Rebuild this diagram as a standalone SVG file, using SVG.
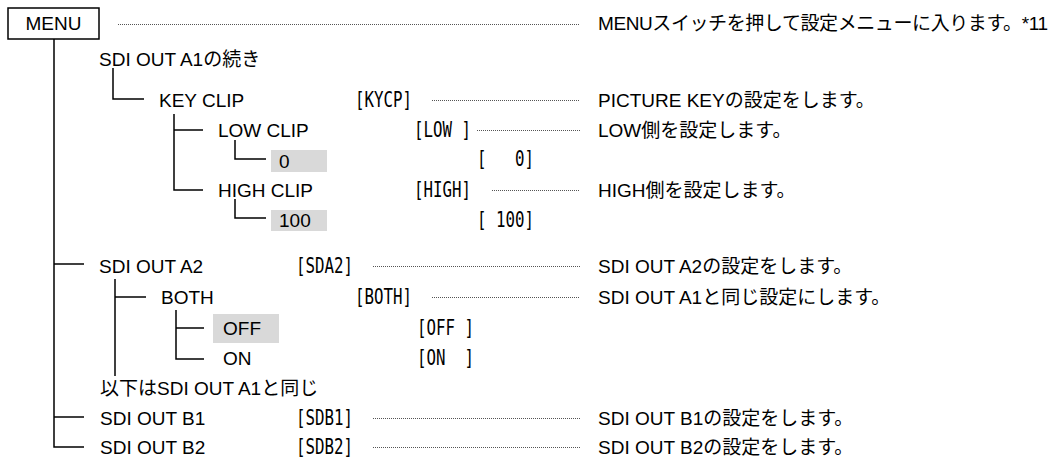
<svg xmlns="http://www.w3.org/2000/svg" width="1060" height="459" viewBox="0 0 1060 459">
<style>
.t{font-family:"Liberation Sans","Noto Sans CJK JP",Arial,sans-serif;font-size:19px;fill:#000;}
.c{font-family:"DejaVu Sans Mono","Liberation Mono",monospace;font-size:21px;fill:#000;white-space:pre;}
.ln{stroke:#000;stroke-width:1.5;fill:none;}
.dot{stroke:#555;stroke-width:1;stroke-dasharray:1 1;fill:none;}
.hl{fill:#d9d9d9;}
.box{fill:#fff;stroke:#000;stroke-width:1.5;}
</style>
<rect width="1060" height="459" fill="#fff"/>
<g id="connectors">
  <path class="ln" d="M54,39 V447 H84"/>
  <path class="ln" d="M54,264 H84"/>
  <path class="ln" d="M54,417 H84"/>
  <path class="ln" d="M113,68 V99 H144"/>
  <path class="ln" d="M174,114 V190 H203"/>
  <path class="ln" d="M174,130 H203"/>
  <path class="ln" d="M235,140 V159 H266"/>
  <path class="ln" d="M235,199 V218 H266"/>
  <path class="ln" d="M115,279 V376"/>
  <path class="ln" d="M115,297 H146"/>
  <path class="ln" d="M176,310 V359 H204"/>
  <path class="ln" d="M176,328 H204"/>
  <path class="dot" d="M118,24.5 H580"/>
  <path class="dot" d="M432,100.5 H580"/>
  <path class="dot" d="M477,130.5 H580"/>
  <path class="dot" d="M492,190.5 H580"/>
  <path class="dot" d="M373,266.5 H580"/>
  <path class="dot" d="M432,297.5 H580"/>
  <path class="dot" d="M373,418.5 H580"/>
  <path class="dot" d="M373,447.5 H580"/>
</g>
<g id="menu">
  <rect class="box" x="8" y="8" width="91" height="31"/>
  <text class="t" x="53.5" y="30" text-anchor="middle">MENU</text>
  <text class="t" x="598" y="30" textLength="450" lengthAdjust="spacing">MENUスイッチを押して設定メニューに入ります。*11</text>
</g>
<g id="sdi-a1-cont">
  <text class="t" x="99" y="66">SDI OUT A1の続き</text>
</g>
<g id="key-clip">
  <text class="t" x="159" y="107">KEY CLIP</text>
  <text class="c" x="355" y="107" textLength="57" lengthAdjust="spacingAndGlyphs">[KYCP]</text>
  <text class="t" x="598" y="107">PICTURE KEYの設定をします。</text>
</g>
<g id="low-clip">
  <text class="t" x="218" y="137">LOW CLIP</text>
  <text class="c" x="414" y="137" textLength="57" lengthAdjust="spacingAndGlyphs">[LOW ]</text>
  <text class="t" x="598" y="137">LOW側を設定します。</text>
</g>
<g id="low-val">
  <rect class="hl" x="271" y="150" width="56" height="22"/>
  <text class="t" x="279" y="168">0</text>
  <text class="c" x="477" y="166" textLength="57" lengthAdjust="spacingAndGlyphs">[   0]</text>
</g>
<g id="high-clip">
  <text class="t" x="218" y="197">HIGH CLIP</text>
  <text class="c" x="414" y="197" textLength="57" lengthAdjust="spacingAndGlyphs">[HIGH]</text>
  <text class="t" x="598" y="197">HIGH側を設定します。</text>
</g>
<g id="high-val">
  <rect class="hl" x="271" y="210" width="56" height="21"/>
  <text class="t" x="279" y="227">100</text>
  <text class="c" x="477" y="227" textLength="57" lengthAdjust="spacingAndGlyphs">[ 100]</text>
</g>
<g id="sdi-a2">
  <text class="t" x="99" y="273">SDI OUT A2</text>
  <text class="c" x="296" y="273" textLength="57" lengthAdjust="spacingAndGlyphs">[SDA2]</text>
  <text class="t" x="598" y="273">SDI OUT A2の設定をします。</text>
</g>
<g id="both">
  <text class="t" x="161" y="304">BOTH</text>
  <text class="c" x="355" y="304" textLength="57" lengthAdjust="spacingAndGlyphs">[BOTH]</text>
  <text class="t" x="598" y="304">SDI OUT A1と同じ設定にします。</text>
</g>
<g id="both-off">
  <rect class="hl" x="213" y="314" width="66" height="29"/>
  <text class="t" x="223" y="335">OFF</text>
  <text class="c" x="417" y="335" textLength="57" lengthAdjust="spacingAndGlyphs">[OFF ]</text>
</g>
<g id="both-on">
  <text class="t" x="223" y="365">ON</text>
  <text class="c" x="417" y="365" textLength="57" lengthAdjust="spacingAndGlyphs">[ON  ]</text>
</g>
<g id="same-note">
  <text class="t" x="100" y="395">以下はSDI OUT A1と同じ</text>
</g>
<g id="sdi-b1">
  <text class="t" x="100" y="425">SDI OUT B1</text>
  <text class="c" x="296" y="425" textLength="57" lengthAdjust="spacingAndGlyphs">[SDB1]</text>
  <text class="t" x="598" y="425">SDI OUT B1の設定をします。</text>
</g>
<g id="sdi-b2">
  <text class="t" x="100" y="454">SDI OUT B2</text>
  <text class="c" x="296" y="454" textLength="57" lengthAdjust="spacingAndGlyphs">[SDB2]</text>
  <text class="t" x="598" y="454">SDI OUT B2の設定をします。</text>
</g>
</svg>
